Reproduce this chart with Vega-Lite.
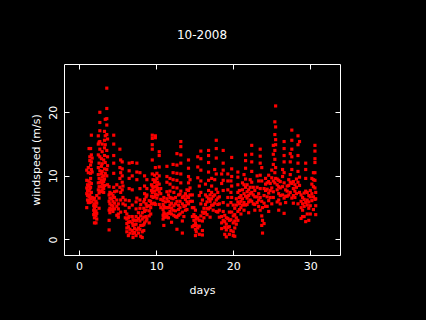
{"$schema":"https://vega.github.io/schema/vega-lite/v6.json","width":276,"height":191,"autosize":"none","padding":{"left":64,"top":64,"right":86,"bottom":65},"background":"black","title":{"text":"10-2008","color":"white","font":"DejaVu Sans","fontSize":12,"fontWeight":"normal","offset":22,"anchor":"middle"},"view":{"stroke":"white","strokeWidth":1,"fill":"black"},"data":{"values":[
{"d":1.0,"w":5.0},{"d":1.0,"w":7.2},{"d":1.0,"w":8.1},{"d":1.0,"w":9.3},{"d":1.0,"w":10.9},{"d":1.1,"w":6.2},{"d":1.1,"w":6.9},{"d":1.1,"w":7.7},{"d":1.1,"w":8.6},{"d":1.2,"w":5.8},{"d":1.2,"w":7.0},{"d":1.2,"w":8.4},{"d":1.2,"w":9.2},{"d":1.2,"w":10.5},{"d":1.2,"w":11.3},{"d":1.3,"w":14.3},{"d":1.3,"w":6.0},{"d":1.3,"w":6.7},{"d":1.3,"w":7.6},{"d":1.3,"w":8.5},{"d":1.4,"w":5.8},{"d":1.4,"w":7.0},{"d":1.4,"w":8.0},{"d":1.4,"w":9.0},{"d":1.4,"w":12.4},{"d":1.4,"w":13.0},{"d":1.5,"w":14.3},{"d":1.5,"w":11.7},{"d":1.5,"w":10.4},{"d":1.5,"w":9.6},{"d":1.5,"w":8.2},{"d":1.5,"w":6.4},{"d":1.6,"w":16.4},{"d":1.6,"w":12.2},{"d":1.6,"w":13.3},{"d":1.6,"w":11.0},{"d":1.6,"w":8.8},{"d":1.6,"w":7.4},{"d":1.6,"w":5.9},{"d":1.7,"w":12.8},{"d":1.7,"w":10.6},{"d":1.7,"w":6.6},
{"d":1.9,"w":6.2},{"d":1.9,"w":5.3},{"d":1.9,"w":4.6},{"d":1.9,"w":3.9},{"d":2.0,"w":6.5},{"d":2.0,"w":5.6},{"d":2.0,"w":4.9},{"d":2.0,"w":4.2},{"d":2.0,"w":3.4},{"d":2.0,"w":2.6},{"d":2.2,"w":6.0},{"d":2.2,"w":5.2},{"d":2.2,"w":4.5},{"d":2.2,"w":3.7},{"d":2.2,"w":2.6},{"d":2.3,"w":6.9},{"d":2.3,"w":5.7},{"d":2.3,"w":4.1},{"d":2.3,"w":3.2},{"d":2.5,"w":16.3},{"d":2.5,"w":15.0},{"d":2.5,"w":13.3},{"d":2.5,"w":11.3},{"d":2.5,"w":10.2},{"d":2.5,"w":8.9},{"d":2.5,"w":7.8},{"d":2.6,"w":15.3},{"d":2.6,"w":12.0},{"d":2.6,"w":9.6},{"d":2.6,"w":8.3},{"d":2.6,"w":7.3},{"d":2.6,"w":6.5},{"d":2.6,"w":4.9},{"d":2.7,"w":20.0},{"d":2.7,"w":18.4},{"d":2.7,"w":17.1},{"d":2.7,"w":15.4},{"d":2.7,"w":14.2},{"d":2.7,"w":13.0},{"d":2.7,"w":10.8},{"d":2.7,"w":9.0},{"d":2.7,"w":7.6},{"d":2.9,"w":12.7},{"d":2.9,"w":11.5},{"d":2.9,"w":10.3},{"d":2.9,"w":9.3},{"d":2.9,"w":8.3},{"d":2.9,"w":7.5},{"d":3.0,"w":15.0},{"d":3.0,"w":13.8},{"d":3.0,"w":11.9},{"d":3.0,"w":10.7},{"d":3.0,"w":9.8},{"d":3.0,"w":8.8},{"d":3.0,"w":7.8},{"d":3.2,"w":12.5},{"d":3.2,"w":10.0},{"d":3.2,"w":9.1},{"d":3.2,"w":8.0},{"d":3.2,"w":7.4},{"d":3.3,"w":17.0},{"d":3.3,"w":15.6},{"d":3.3,"w":14.4},{"d":3.3,"w":13.2},{"d":3.3,"w":11.1},{"d":3.3,"w":9.5},{"d":3.3,"w":8.5},{"d":3.4,"w":18.9},{"d":3.4,"w":16.3},{"d":3.4,"w":14.9},{"d":3.4,"w":12.1},{"d":3.4,"w":10.4},{"d":3.6,"w":23.8},{"d":3.6,"w":20.6},{"d":3.6,"w":19.0},{"d":3.6,"w":18.0},{"d":3.6,"w":16.5},{"d":3.6,"w":14.0},{"d":3.6,"w":11.0},{"d":3.6,"w":10.0},{"d":3.7,"w":15.8},{"d":3.7,"w":13.0},{"d":3.7,"w":11.6},{"d":3.7,"w":8.6},
{"d":3.9,"w":8.3},{"d":3.9,"w":7.0},{"d":3.9,"w":6.0},{"d":3.9,"w":4.6},{"d":3.9,"w":3.0},{"d":3.9,"w":1.5},{"d":4.0,"w":7.4},{"d":4.0,"w":6.5},{"d":4.0,"w":5.6},{"d":4.0,"w":4.9},{"d":4.0,"w":4.2},{"d":4.2,"w":7.2},{"d":4.2,"w":6.4},{"d":4.2,"w":5.4},{"d":4.2,"w":4.7},{"d":4.4,"w":6.9},{"d":4.4,"w":6.0},{"d":4.4,"w":5.2},{"d":4.4,"w":4.4},{"d":4.5,"w":16.4},{"d":4.5,"w":15.0},{"d":4.5,"w":13.2},{"d":4.5,"w":12.0},{"d":4.5,"w":10.4},{"d":4.5,"w":8.2},{"d":4.6,"w":7.5},{"d":4.6,"w":6.6},{"d":4.6,"w":5.7},{"d":4.6,"w":4.8},{"d":4.9,"w":8.6},{"d":4.9,"w":7.6},{"d":4.9,"w":6.2},{"d":4.9,"w":5.2},{"d":4.9,"w":3.8},{"d":5.1,"w":5.6},{"d":5.1,"w":4.8},{"d":5.1,"w":4.0},{"d":5.1,"w":3.5},{"d":5.3,"w":14.2},{"d":5.3,"w":11.3},{"d":5.3,"w":9.6},{"d":5.3,"w":8.2},{"d":5.4,"w":12.5},{"d":5.4,"w":10.5},{"d":5.4,"w":7.4},{"d":5.4,"w":6.2},{"d":5.4,"w":4.3},{"d":5.6,"w":12.2},{"d":5.6,"w":11.1},{"d":5.6,"w":10.0},{"d":5.6,"w":9.0},{"d":5.6,"w":7.8},{"d":5.7,"w":6.6},{"d":5.7,"w":5.6},{"d":5.7,"w":8.4},
{"d":6.0,"w":6.2},{"d":6.0,"w":5.4},{"d":6.0,"w":4.4},{"d":6.0,"w":3.4},{"d":6.2,"w":4.0},{"d":6.2,"w":3.2},{"d":6.2,"w":2.5},{"d":6.2,"w":1.8},{"d":6.2,"w":1.2},{"d":6.4,"w":3.4},{"d":6.4,"w":2.7},{"d":6.4,"w":2.0},{"d":6.4,"w":0.6},{"d":6.5,"w":12.0},{"d":6.5,"w":10.8},{"d":6.5,"w":9.6},{"d":6.5,"w":8.0},{"d":6.5,"w":6.1},{"d":6.5,"w":5.0},{"d":6.5,"w":3.6},{"d":6.6,"w":2.8},{"d":6.6,"w":1.6},{"d":6.6,"w":1.0},{"d":6.9,"w":12.1},{"d":6.9,"w":10.0},{"d":6.9,"w":7.8},{"d":6.9,"w":5.4},{"d":6.9,"w":3.6},{"d":6.9,"w":2.6},{"d":6.9,"w":1.4},{"d":7.0,"w":3.1},{"d":7.0,"w":2.2},{"d":7.0,"w":0.9},{"d":7.0,"w":0.3},{"d":7.2,"w":3.0},{"d":7.2,"w":2.3},{"d":7.2,"w":1.7},{"d":7.2,"w":1.1},{"d":7.4,"w":5.9},{"d":7.4,"w":4.8},{"d":7.4,"w":3.6},{"d":7.4,"w":2.4},{"d":7.4,"w":0.6},{"d":7.5,"w":12.0},{"d":7.5,"w":10.6},{"d":7.5,"w":9.4},{"d":7.5,"w":6.5},{"d":7.5,"w":3.0},{"d":7.5,"w":1.5},{"d":7.7,"w":4.2},{"d":7.7,"w":3.3},{"d":7.7,"w":1.8},{"d":7.7,"w":1.0},{"d":7.9,"w":10.5},{"d":7.9,"w":8.0},{"d":7.9,"w":6.2},{"d":7.9,"w":4.9},{"d":7.9,"w":2.9},{"d":7.9,"w":1.6},{"d":8.0,"w":5.5},{"d":8.0,"w":3.7},{"d":8.0,"w":2.2},{"d":8.0,"w":0.5},
{"d":8.2,"w":4.2},{"d":8.2,"w":3.2},{"d":8.2,"w":2.2},{"d":8.2,"w":1.2},{"d":8.2,"w":0.3},{"d":8.4,"w":5.9},{"d":8.4,"w":4.9},{"d":8.4,"w":3.5},{"d":8.4,"w":2.3},{"d":8.4,"w":1.4},{"d":8.5,"w":10.0},{"d":8.5,"w":8.4},{"d":8.5,"w":7.2},{"d":8.5,"w":6.3},{"d":8.5,"w":4.4},{"d":8.5,"w":2.6},{"d":8.7,"w":6.7},{"d":8.7,"w":5.6},{"d":8.7,"w":4.6},{"d":8.7,"w":3.6},{"d":8.7,"w":2.9},{"d":8.8,"w":9.4},{"d":8.8,"w":8.0},{"d":8.8,"w":7.0},{"d":8.8,"w":5.2},{"d":8.8,"w":3.2},{"d":9.1,"w":6.1},{"d":9.1,"w":5.3},{"d":9.1,"w":4.5},{"d":9.1,"w":3.7},{"d":9.1,"w":2.6},{"d":9.3,"w":6.0},{"d":9.3,"w":5.0},{"d":9.3,"w":4.0},{"d":9.4,"w":8.6},{"d":9.4,"w":7.7},{"d":9.4,"w":6.8},{"d":9.4,"w":5.6},{"d":9.5,"w":16.4},{"d":9.5,"w":15.9},{"d":9.5,"w":14.9},{"d":9.5,"w":14.2},{"d":9.5,"w":12.5},{"d":9.5,"w":10.3},{"d":9.5,"w":8.4},{"d":9.5,"w":7.4},{"d":9.6,"w":9.4},{"d":9.6,"w":8.1},{"d":9.6,"w":6.6},{"d":9.6,"w":5.6},{"d":9.8,"w":10.1},{"d":9.8,"w":9.0},{"d":9.8,"w":7.6},{"d":9.8,"w":6.7},{"d":9.8,"w":5.7},{"d":9.9,"w":16.3},{"d":9.9,"w":16.0},{"d":9.9,"w":11.3},{"d":9.9,"w":9.3},{"d":9.9,"w":8.3},{"d":9.9,"w":7.1},{"d":9.9,"w":5.5},{"d":10.1,"w":10.4},{"d":10.1,"w":9.6},{"d":10.1,"w":8.5},{"d":10.1,"w":7.8},{"d":10.1,"w":6.5},{"d":10.2,"w":9.0},{"d":10.2,"w":8.0},{"d":10.2,"w":7.0},{"d":10.4,"w":13.8},{"d":10.4,"w":13.2},{"d":10.4,"w":11.4},{"d":10.4,"w":10.0},{"d":10.4,"w":8.7},{"d":10.4,"w":7.5},{"d":10.4,"w":5.5},{"d":10.6,"w":8.0},{"d":10.6,"w":7.2},{"d":10.6,"w":6.3},{"d":10.6,"w":5.0},
{"d":10.9,"w":6.1},{"d":10.9,"w":5.5},{"d":10.9,"w":4.7},{"d":10.9,"w":3.8},{"d":10.9,"w":3.2},{"d":11.0,"w":6.6},{"d":11.0,"w":5.2},{"d":11.0,"w":4.2},{"d":11.0,"w":3.5},{"d":11.0,"w":2.2},{"d":11.2,"w":5.9},{"d":11.2,"w":5.0},{"d":11.2,"w":4.0},{"d":11.2,"w":3.5},{"d":11.4,"w":11.5},{"d":11.4,"w":9.9},{"d":11.4,"w":9.0},{"d":11.4,"w":7.5},{"d":11.4,"w":6.4},{"d":11.4,"w":5.0},{"d":11.4,"w":3.6},{"d":11.6,"w":7.0},{"d":11.6,"w":6.0},{"d":11.6,"w":5.0},{"d":11.6,"w":4.1},{"d":11.6,"w":3.4},{"d":11.8,"w":9.6},{"d":11.8,"w":8.7},{"d":11.8,"w":7.6},{"d":11.8,"w":6.6},{"d":11.8,"w":5.4},{"d":11.8,"w":4.4},{"d":12.0,"w":6.5},{"d":12.0,"w":5.7},{"d":12.0,"w":4.9},{"d":12.0,"w":4.0},{"d":12.0,"w":2.7},{"d":12.2,"w":11.8},{"d":12.2,"w":10.5},{"d":12.2,"w":9.4},{"d":12.2,"w":8.2},{"d":12.2,"w":6.4},{"d":12.2,"w":4.6},{"d":12.3,"w":7.4},{"d":12.3,"w":5.3},{"d":12.3,"w":3.8},{"d":12.5,"w":6.6},{"d":12.5,"w":5.6},{"d":12.5,"w":4.5},{"d":12.5,"w":3.6},{"d":12.7,"w":13.5},{"d":12.7,"w":11.7},{"d":12.7,"w":10.4},{"d":12.7,"w":9.3},{"d":12.7,"w":8.1},{"d":12.7,"w":6.0},{"d":12.7,"w":3.5},{"d":12.7,"w":1.6},{"d":12.9,"w":7.0},{"d":12.9,"w":5.4},{"d":12.9,"w":4.7},{"d":12.9,"w":3.8},{"d":13.1,"w":7.1},{"d":13.1,"w":6.0},{"d":13.1,"w":5.0},{"d":13.1,"w":4.0},{"d":13.2,"w":15.4},{"d":13.2,"w":14.6},{"d":13.2,"w":13.3},{"d":13.2,"w":12.0},{"d":13.2,"w":10.3},{"d":13.2,"w":8.9},{"d":13.2,"w":7.6},{"d":13.4,"w":6.6},{"d":13.4,"w":5.6},{"d":13.4,"w":4.3},{"d":13.4,"w":2.9},{"d":13.4,"w":1.0},{"d":13.6,"w":6.8},{"d":13.6,"w":5.2},{"d":13.6,"w":3.6},{"d":13.8,"w":7.2},{"d":13.8,"w":6.3},{"d":13.8,"w":5.3},{"d":13.8,"w":4.6},{"d":14.0,"w":7.8},{"d":14.0,"w":6.8},{"d":14.0,"w":5.9},{"d":14.0,"w":4.7},{"d":14.2,"w":12.5},{"d":14.2,"w":11.2},{"d":14.2,"w":9.9},{"d":14.2,"w":8.9},{"d":14.2,"w":7.7},{"d":14.2,"w":6.6},{"d":14.2,"w":5.6},{"d":14.4,"w":9.4},{"d":14.4,"w":8.1},{"d":14.4,"w":7.0},{"d":14.4,"w":6.0},
{"d":14.7,"w":7.0},{"d":14.7,"w":6.0},{"d":14.7,"w":5.0},{"d":14.7,"w":3.6},{"d":14.7,"w":2.0},{"d":14.9,"w":5.0},{"d":14.9,"w":3.9},{"d":14.9,"w":3.0},{"d":14.9,"w":2.2},{"d":15.1,"w":4.6},{"d":15.1,"w":3.6},{"d":15.1,"w":2.6},{"d":15.1,"w":1.6},{"d":15.1,"w":0.6},{"d":15.2,"w":3.2},{"d":15.2,"w":2.2},{"d":15.2,"w":1.2},{"d":15.4,"w":13.0},{"d":15.4,"w":11.4},{"d":15.4,"w":9.7},{"d":15.4,"w":3.4},{"d":15.4,"w":1.8},{"d":15.6,"w":8.4},{"d":15.6,"w":6.9},{"d":15.6,"w":3.0},{"d":15.6,"w":2.1},{"d":15.6,"w":0.8},{"d":15.8,"w":13.9},{"d":15.8,"w":12.7},{"d":15.8,"w":10.9},{"d":15.8,"w":9.2},{"d":15.8,"w":7.4},{"d":15.8,"w":5.6},{"d":15.8,"w":3.7},{"d":16.0,"w":6.2},{"d":16.0,"w":4.3},{"d":16.0,"w":2.9},{"d":16.0,"w":1.4},{"d":16.0,"w":0.7},{"d":16.2,"w":4.9},{"d":16.2,"w":4.1},{"d":16.2,"w":3.4},{"d":16.4,"w":8.7},{"d":16.4,"w":7.0},{"d":16.4,"w":5.5},{"d":16.4,"w":4.3},{"d":16.6,"w":6.7},{"d":16.6,"w":5.9},{"d":16.6,"w":4.9},{"d":16.6,"w":3.9},{"d":16.8,"w":14.0},{"d":16.8,"w":13.2},{"d":16.8,"w":12.1},{"d":16.8,"w":10.6},{"d":16.8,"w":9.3},{"d":16.8,"w":7.7},{"d":16.8,"w":6.4},{"d":16.8,"w":4.8},{"d":17.0,"w":7.0},{"d":17.0,"w":6.0},{"d":17.0,"w":5.0},{"d":17.0,"w":3.5},{"d":17.2,"w":9.6},{"d":17.2,"w":8.4},{"d":17.2,"w":7.4},{"d":17.2,"w":6.4},{"d":17.2,"w":5.4},{"d":17.4,"w":6.8},{"d":17.4,"w":5.4},{"d":17.4,"w":4.6},{"d":17.6,"w":11.0},{"d":17.6,"w":9.4},{"d":17.6,"w":7.0},{"d":17.6,"w":5.7},{"d":17.8,"w":15.6},{"d":17.8,"w":14.3},{"d":17.8,"w":12.8},{"d":17.8,"w":10.3},{"d":17.8,"w":7.9},{"d":17.8,"w":6.2},{"d":17.8,"w":4.4},{"d":18.0,"w":7.4},{"d":18.0,"w":6.5},{"d":18.0,"w":5.5},{"d":18.0,"w":4.3},{"d":18.2,"w":6.7},{"d":18.2,"w":5.6},{"d":18.2,"w":4.6},{"d":18.2,"w":3.5},
{"d":18.5,"w":10.3},{"d":18.5,"w":8.8},{"d":18.5,"w":3.6},{"d":18.5,"w":2.6},{"d":18.5,"w":1.7},{"d":18.7,"w":14.0},{"d":18.7,"w":12.0},{"d":18.7,"w":10.9},{"d":18.7,"w":9.3},{"d":18.7,"w":7.7},{"d":18.7,"w":5.8},{"d":18.7,"w":4.4},{"d":18.7,"w":3.0},{"d":18.9,"w":3.8},{"d":18.9,"w":2.8},{"d":18.9,"w":1.9},{"d":18.9,"w":0.8},{"d":19.1,"w":3.4},{"d":19.1,"w":2.4},{"d":19.1,"w":1.5},{"d":19.1,"w":0.4},{"d":19.3,"w":10.3},{"d":19.3,"w":9.2},{"d":19.3,"w":7.8},{"d":19.3,"w":6.6},{"d":19.3,"w":5.4},{"d":19.3,"w":3.3},{"d":19.3,"w":1.9},{"d":19.5,"w":4.3},{"d":19.5,"w":3.0},{"d":19.5,"w":2.0},{"d":19.5,"w":0.8},{"d":19.7,"w":9.2},{"d":19.7,"w":7.4},{"d":19.7,"w":5.8},{"d":19.7,"w":3.1},{"d":19.7,"w":1.4},{"d":19.8,"w":12.9},{"d":19.8,"w":11.1},{"d":19.8,"w":9.9},{"d":19.8,"w":8.4},{"d":19.8,"w":6.6},{"d":19.8,"w":4.3},{"d":20.0,"w":5.4},{"d":20.0,"w":3.7},{"d":20.0,"w":2.6},{"d":20.0,"w":1.2},{"d":20.0,"w":0.6},{"d":20.2,"w":4.9},{"d":20.2,"w":3.9},{"d":20.2,"w":2.9},{"d":20.2,"w":1.8},{"d":20.2,"w":0.5},{"d":20.4,"w":6.4},{"d":20.4,"w":5.4},{"d":20.4,"w":3.4},{"d":20.4,"w":2.4},{"d":20.6,"w":10.6},{"d":20.6,"w":9.8},{"d":20.6,"w":8.6},{"d":20.6,"w":7.4},{"d":20.6,"w":5.9},{"d":20.6,"w":4.4},{"d":20.6,"w":3.0},{"d":20.8,"w":7.7},{"d":20.8,"w":6.6},{"d":20.8,"w":5.6},{"d":20.8,"w":4.7},{"d":21.0,"w":6.9},{"d":21.0,"w":6.0},{"d":21.0,"w":5.0},{"d":21.0,"w":4.0},{"d":21.2,"w":8.9},{"d":21.2,"w":7.8},{"d":21.2,"w":6.4},{"d":21.2,"w":5.4},{"d":21.4,"w":10.2},{"d":21.4,"w":8.6},{"d":21.4,"w":7.2},{"d":21.4,"w":5.8},{"d":21.4,"w":4.6},{"d":21.6,"w":13.3},{"d":21.6,"w":12.4},{"d":21.6,"w":11.2},{"d":21.6,"w":9.5},{"d":21.6,"w":8.2},{"d":21.6,"w":6.8},{"d":21.6,"w":5.4},{"d":21.8,"w":8.6},{"d":21.8,"w":7.5},{"d":21.8,"w":6.5},{"d":21.8,"w":5.5},{"d":22.0,"w":7.8},{"d":22.0,"w":6.9},{"d":22.0,"w":5.9},{"d":22.0,"w":4.2},{"d":22.2,"w":9.4},{"d":22.2,"w":8.2},{"d":22.2,"w":7.2},{"d":22.2,"w":6.2},{"d":22.4,"w":14.8},{"d":22.4,"w":13.4},{"d":22.4,"w":12.2},{"d":22.4,"w":10.7},{"d":22.4,"w":9.0},{"d":22.4,"w":7.4},{"d":22.4,"w":6.0},{"d":22.6,"w":8.2},{"d":22.6,"w":7.0},{"d":22.6,"w":5.6},{"d":22.8,"w":7.7},{"d":22.8,"w":6.7},{"d":22.8,"w":5.5},{"d":22.8,"w":4.6},{"d":23.1,"w":10.0},{"d":23.1,"w":8.2},{"d":23.1,"w":6.7},{"d":23.1,"w":5.8},{"d":23.3,"w":9.2},{"d":23.3,"w":7.2},{"d":23.3,"w":6.2},{"d":23.3,"w":5.2},{"d":23.5,"w":14.2},{"d":23.5,"w":13.1},{"d":23.5,"w":12.0},{"d":23.5,"w":10.1},{"d":23.5,"w":8.0},{"d":23.5,"w":6.6},{"d":23.5,"w":4.6},{"d":23.7,"w":11.3},{"d":23.7,"w":9.2},{"d":23.7,"w":6.0},{"d":23.7,"w":3.7},{"d":23.7,"w":2.2},{"d":23.8,"w":5.0},{"d":23.8,"w":3.0},{"d":23.8,"w":1.0},{"d":24.0,"w":8.0},{"d":24.0,"w":6.9},{"d":24.0,"w":5.7},{"d":24.0,"w":2.5},{"d":24.2,"w":9.6},{"d":24.2,"w":8.7},{"d":24.2,"w":7.7},{"d":24.2,"w":5.2},{"d":24.4,"w":8.9},{"d":24.4,"w":7.9},{"d":24.4,"w":6.7},{"d":24.4,"w":5.2},{"d":24.6,"w":10.1},{"d":24.6,"w":9.1},{"d":24.6,"w":7.3},{"d":24.6,"w":6.1},{"d":24.6,"w":4.4},{"d":24.8,"w":8.8},{"d":24.8,"w":7.7},{"d":24.8,"w":6.6},{"d":25.0,"w":10.9},{"d":25.0,"w":9.7},{"d":25.0,"w":8.1},{"d":25.0,"w":5.6},{"d":25.2,"w":14.8},{"d":25.2,"w":13.4},{"d":25.2,"w":11.8},{"d":25.2,"w":9.2},{"d":25.2,"w":7.5},{"d":25.2,"w":6.6},{"d":25.4,"w":18.5},{"d":25.4,"w":16.5},{"d":25.4,"w":14.0},{"d":25.4,"w":12.6},{"d":25.4,"w":10.5},{"d":25.4,"w":8.9},{"d":25.5,"w":21.0},{"d":25.5,"w":17.7},{"d":25.5,"w":15.7},{"d":25.5,"w":14.9},{"d":25.5,"w":11.3},{"d":25.5,"w":9.6},{"d":25.7,"w":9.5},{"d":25.7,"w":8.6},{"d":25.7,"w":7.8},{"d":25.7,"w":5.9},{"d":25.9,"w":9.3},{"d":25.9,"w":8.3},{"d":25.9,"w":7.2},{"d":25.9,"w":6.2},{"d":25.9,"w":4.6},{"d":26.1,"w":9.1},{"d":26.1,"w":8.1},{"d":26.1,"w":6.9},{"d":26.1,"w":5.6},{"d":26.4,"w":11.0},{"d":26.4,"w":9.9},{"d":26.4,"w":8.3},{"d":26.4,"w":7.0},{"d":26.6,"w":15.4},{"d":26.6,"w":14.3},{"d":26.6,"w":13.2},{"d":26.6,"w":12.2},{"d":26.6,"w":10.5},{"d":26.6,"w":8.9},{"d":26.6,"w":6.5},{"d":26.6,"w":4.1},{"d":26.8,"w":7.8},{"d":26.8,"w":6.8},{"d":26.8,"w":5.8},{"d":27.0,"w":8.4},{"d":27.0,"w":7.6},{"d":27.0,"w":6.8},{"d":27.2,"w":9.4},{"d":27.2,"w":8.5},{"d":27.2,"w":7.0},{"d":27.4,"w":13.5},{"d":27.4,"w":12.2},{"d":27.4,"w":10.2},{"d":27.4,"w":9.0},{"d":27.4,"w":7.4},{"d":27.6,"w":17.2},{"d":27.6,"w":15.6},{"d":27.6,"w":14.2},{"d":27.6,"w":13.0},{"d":27.6,"w":11.0},{"d":27.6,"w":8.8},{"d":27.6,"w":6.5},{"d":27.8,"w":9.1},{"d":27.8,"w":8.0},{"d":27.8,"w":6.9},{"d":27.8,"w":5.7},{"d":28.0,"w":8.6},{"d":28.0,"w":7.6},{"d":28.0,"w":6.6},{"d":28.2,"w":9.5},{"d":28.2,"w":8.2},{"d":28.2,"w":7.2},{"d":28.4,"w":16.3},{"d":28.4,"w":14.9},{"d":28.4,"w":13.2},{"d":28.4,"w":12.0},{"d":28.4,"w":10.7},{"d":28.4,"w":9.0},{"d":28.4,"w":5.6},{"d":28.6,"w":15.4},{"d":28.6,"w":9.8},{"d":28.6,"w":8.5},{"d":28.6,"w":7.4},{"d":28.8,"w":7.0},{"d":28.8,"w":6.0},{"d":28.8,"w":5.0},{"d":28.8,"w":3.3},{"d":29.0,"w":6.6},{"d":29.0,"w":5.6},{"d":29.0,"w":4.6},{"d":29.0,"w":3.6},{"d":29.2,"w":7.3},{"d":29.2,"w":6.3},{"d":29.2,"w":5.2},{"d":29.2,"w":3.6},{"d":29.4,"w":12.0},{"d":29.4,"w":11.0},{"d":29.4,"w":9.6},{"d":29.4,"w":7.6},{"d":29.4,"w":5.8},{"d":29.4,"w":2.8},{"d":29.6,"w":7.4},{"d":29.6,"w":6.2},{"d":29.6,"w":5.4},{"d":29.6,"w":4.0},{"d":29.8,"w":6.9},{"d":29.8,"w":5.9},{"d":29.8,"w":4.9},{"d":29.8,"w":3.0},{"d":30.0,"w":7.7},{"d":30.0,"w":6.7},{"d":30.0,"w":5.3},{"d":30.0,"w":4.0},{"d":30.2,"w":9.6},{"d":30.2,"w":8.7},{"d":30.2,"w":7.2},{"d":30.2,"w":6.1},{"d":30.4,"w":10.5},{"d":30.4,"w":9.4},{"d":30.4,"w":8.3},{"d":30.4,"w":6.7},{"d":30.4,"w":4.7},{"d":30.6,"w":14.8},{"d":30.6,"w":13.9},{"d":30.6,"w":12.7},{"d":30.6,"w":12.1},{"d":30.6,"w":10.5},{"d":30.6,"w":9.3},{"d":30.6,"w":8.1},{"d":30.6,"w":6.3},{"d":30.7,"w":7.4},{"d":30.7,"w":6.4},{"d":30.7,"w":5.3},{"d":30.7,"w":3.9}
]},"layer":[{"mark":{"type":"square","color":"#ff0000","size":10,"opacity":1},"encoding":{"x":{"field":"d","type":"quantitative","scale":{"domain":[-1.95,33.85],"nice":false,"zero":false},"axis":{"title":"days","titleColor":"white","titleFont":"DejaVu Sans","titleFontSize":11,"titleFontWeight":"normal","titlePadding":13,"values":[0,10,20,30],"format":"d","grid":false,"domain":false,"tickColor":"white","tickSize":-5,"labelColor":"white","labelFont":"DejaVu Sans","labelFontSize":11,"labelPadding":10,"labelFlush":false}},"y":{"field":"w","type":"quantitative","scale":{"domain":[-2.45,27.6],"nice":false,"zero":false},"axis":{"title":"windspeed (m/s)","titleColor":"white","titleFont":"DejaVu Sans","titleFontSize":11,"titleFontWeight":"normal","titlePadding":6,"values":[0,10,20],"format":"d","grid":false,"domain":false,"tickColor":"white","tickSize":-5,"labelColor":"white","labelFont":"DejaVu Sans","labelFontSize":11,"labelAngle":-90,"labelAlign":"center","labelBaseline":"bottom","labelPadding":11,"labelFlush":false}}}},{"mark":{"type":"square","opacity":0},"encoding":{"x":{"field":"d","type":"quantitative","axis":{"orient":"top","title":null,"values":[0,10,20,30],"labels":false,"grid":false,"domain":false,"tickColor":"white","tickSize":-5}},"y":{"field":"w","type":"quantitative","axis":{"orient":"right","title":null,"values":[0,10,20],"labels":false,"grid":false,"domain":false,"tickColor":"white","tickSize":-5}}}}],"resolve":{"axis":{"x":"independent","y":"independent"}}}
